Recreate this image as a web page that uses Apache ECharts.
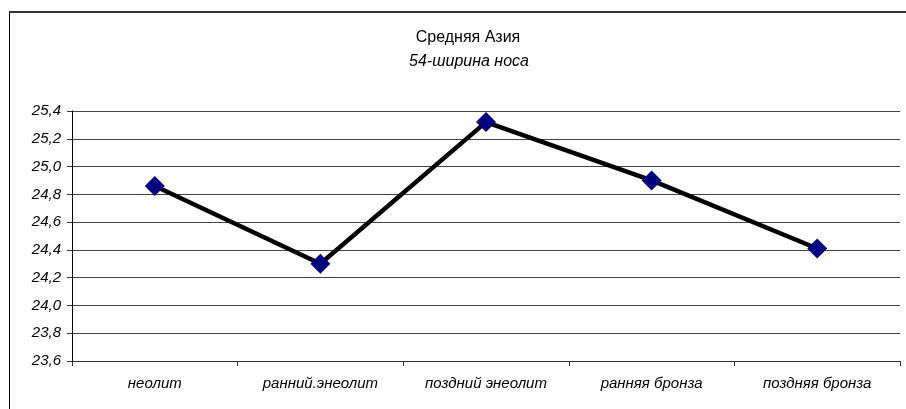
<!DOCTYPE html>
<html>
<head>
<meta charset="utf-8">
<script src="https://cdn.jsdelivr.net/npm/echarts@6/dist/echarts.min.js"></script>
<style>
  html, body { margin: 0; padding: 0; background: #fff; }
  #chart { width: 906px; height: 409px; }
  /* рамка диаграммы */
  .frame {
    position: absolute; left: 9px; top: 11px; width: 905px; height: 410px;
    border-left: 1.5px solid #000; border-top: 2px solid #333;
    pointer-events: none;
  }
</style>
</head>
<body>
<div id="chart"></div>
<div class="frame"></div>
<script>
var categories = ['неолит', 'ранний.энеолит', 'поздний энеолит', 'ранняя бронза', 'поздняя бронза'];
var values = [24.86, 24.30, 25.32, 24.90, 24.41];
var yMin = 23.6, yMax = 25.4, yStep = 0.2;

var label_size = 15;
var font = 'Liberation Sans, Arial, sans-serif';

var myChart = echarts.init(document.getElementById('chart'));
myChart.setOption({
  animation: false,
  title: [
    {
      text: 'Средняя Азия',
      left: 463, top: 25, textAlign: 'center',
      textStyle: { fontSize: 16, fontWeight: 'normal', color: '#000', fontFamily: font }
    },
    {
      text: '54-ширина носа',
      left: 464, top: 49, textAlign: 'center',
      textStyle: { fontSize: 16, fontWeight: 'normal', fontStyle: 'italic', color: '#000', fontFamily: font }
    }
  ],
  grid: { left: 72, right: 6, top: 111, bottom: 48 },
  xAxis: {
    type: 'category',
    data: categories,
    boundaryGap: true,
    axisLine: { lineStyle: { color: '#333', width: 1 } },
    axisTick: { show: true, length: 5, lineStyle: { color: '#333' } },
    axisLabel: {
      fontSize: label_size, fontStyle: 'italic', color: '#000',
      fontFamily: font, margin: 15, interval: 0
    }
  },
  yAxis: {
    type: 'value',
    min: yMin, max: yMax, interval: yStep,
    axisLine: { show: true, lineStyle: { color: '#000', width: 1 } },
    axisTick: { show: true, length: 5, lineStyle: { color: '#333' } },
    splitLine: { lineStyle: { color: '#444', width: 1 } },
    axisLabel: {
      color: '#000', margin: 11,
      formatter: function (v) { return '{i|' + v.toFixed(1).replace('.', ',') + '}'; },
      rich: {
        i: { fontSize: label_size, fontStyle: 'italic', color: '#000', fontFamily: font }
      }
    }
  },
  series: [
    {
      type: 'line',
      data: values,
      symbol: 'diamond',
      symbolSize: 20,
      itemStyle: { color: '#000080' },
      lineStyle: { color: '#000', width: 4.5 },
      z: 3
    }
  ]
});
</script>
</body>
</html>
